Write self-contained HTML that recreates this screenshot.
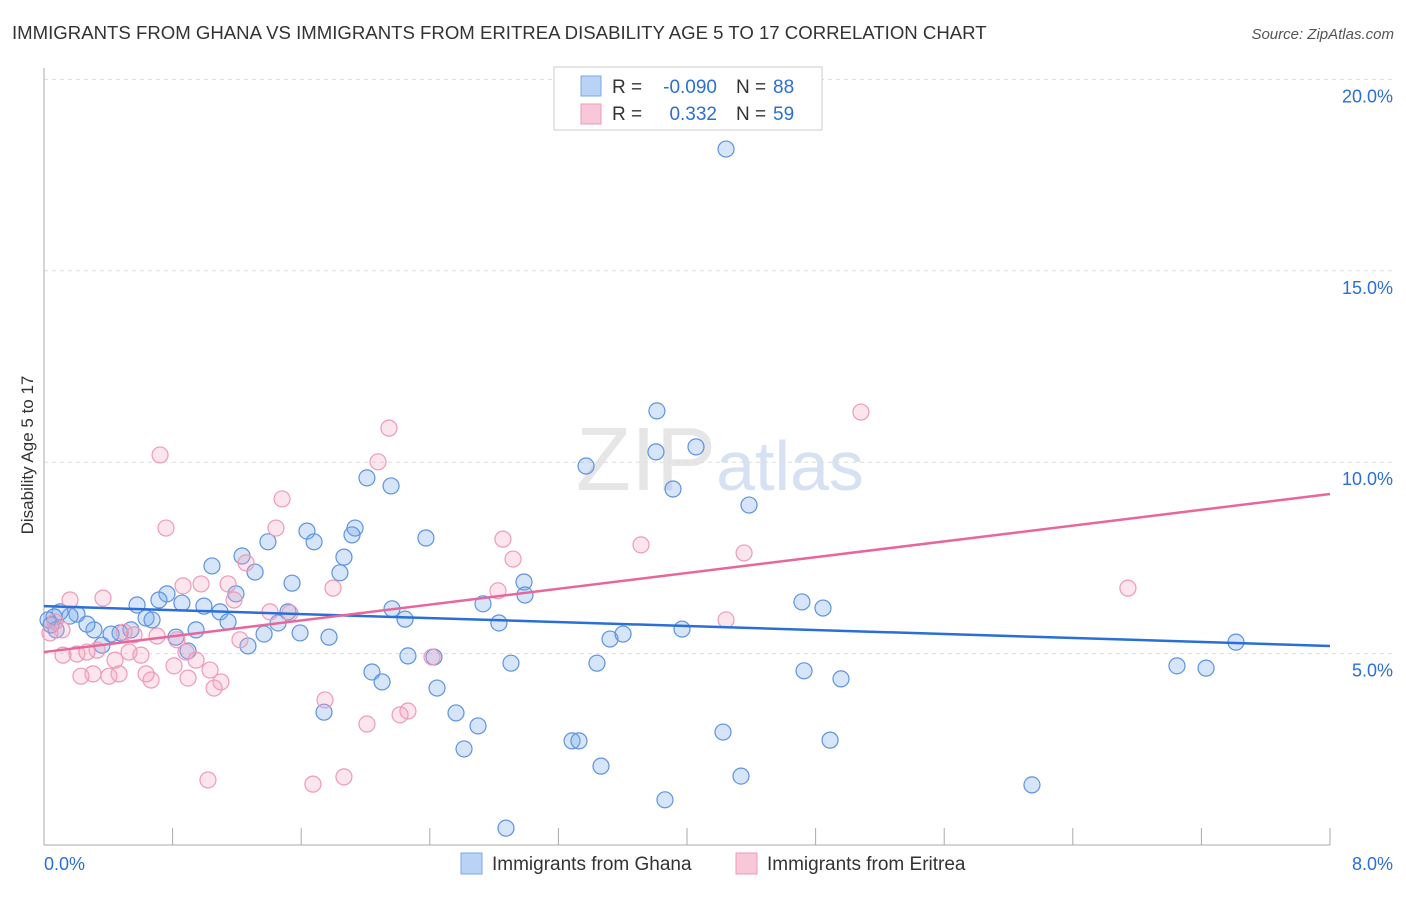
<!DOCTYPE html>
<html><head><meta charset="utf-8"><style>
body{margin:0;background:#fff;font-family:"Liberation Sans",sans-serif}
svg text{font-family:"Liberation Sans",sans-serif}
</style></head><body>
<svg width="1406" height="892" xmlns="http://www.w3.org/2000/svg">
<text x="12" y="39" font-size="18.6" fill="#333">IMMIGRANTS FROM GHANA VS IMMIGRANTS FROM ERITREA DISABILITY AGE 5 TO 17 CORRELATION CHART</text>
<text x="1394" y="39" font-size="15" fill="#555" text-anchor="end" font-style="italic">Source: ZipAtlas.com</text>
<text x="720" y="490" font-size="90" fill="#e6e6e6" text-anchor="middle" font-family="Liberation Serif">ZIP<tspan fill="#d6e2f3" font-family="Liberation Sans" font-size="70">atlas</tspan></text>
<g id="grid"></g>
<g id="axes"></g>
<g id="pts"></g>
<g id="lines"></g>
<text transform="translate(33,455) rotate(-90)" font-size="17" fill="#333" text-anchor="middle">Disability Age 5 to 17</text>
<g>
<rect x="554" y="67" width="268" height="63" fill="#fff" stroke="#ccc"/>
<rect x="581" y="76" width="20" height="20" fill="#b8d3f5" stroke="#7aa7e6"/>
<rect x="581" y="104" width="20" height="20" fill="#f9c8d8" stroke="#ee9ab8"/>
<text x="612" y="93" font-size="19" fill="#333">R =</text>
<text x="717" y="93" font-size="19" fill="#2a6fd6" text-anchor="end">-0.090</text>
<text x="736" y="93" font-size="19" fill="#333">N =</text>
<text x="773" y="93" font-size="19" fill="#2a6fd6">88</text>
<text x="612" y="120" font-size="19" fill="#333">R =</text>
<text x="717" y="120" font-size="19" fill="#2a6fd6" text-anchor="end">0.332</text>
<text x="736" y="120" font-size="19" fill="#333">N =</text>
<text x="773" y="120" font-size="19" fill="#2a6fd6">59</text>
</g>
<g>
<rect x="461" y="853" width="21" height="21" fill="#b8d3f5" stroke="#7aa7e6"/>
<text x="492" y="870" font-size="19" fill="#333">Immigrants from Ghana</text>
<rect x="736" y="853" width="21" height="21" fill="#f9c8d8" stroke="#ee9ab8"/>
<text x="767" y="870" font-size="19" fill="#333">Immigrants from Eritrea</text>
</g>
</svg>
<script>
const xTicks=[0,0.8,1.6,2.4,3.2,4,4.8,5.6,6.4,7.2,8];
const yTicks=[5,10,15,20];
const yTickLabels=["5.0%","10.0%","15.0%","20.0%"];
const xTickLabels=["0.0%","8.0%"];
const ghanaPx=[[726,149],[657,411],[656,452],[696,447],[586,466],[673,489],[749,505],[367,478],[391,486],[426,538],[355,528],[352,535],[307,531],[314,542],[268,542],[242,556],[255,572],[344,557],[340,573],[292,583],[212,566],[236,594],[167,594],[159,600],[137,605],[182,603],[204,606],[220,612],[228,622],[196,630],[176,637],[146,618],[152,620],[131,630],[120,633],[111,634],[94,630],[87,624],[77,614],[70,616],[60,612],[54,617],[48,620],[51,625],[56,630],[102,645],[188,651],[248,646],[264,634],[278,623],[288,612],[300,633],[329,637],[392,609],[405,619],[483,604],[499,623],[524,582],[525,595],[610,639],[623,634],[682,629],[802,602],[823,608],[1236,642],[1177,666],[1206,668],[408,656],[434,657],[372,672],[382,682],[437,688],[511,663],[597,663],[804,671],[841,679],[324,712],[456,713],[478,726],[464,749],[572,741],[579,741],[601,766],[723,732],[830,740],[741,776],[665,800],[1032,785],[506,828]];
const eritreaPx=[[160,455],[166,528],[389,428],[378,462],[282,499],[276,528],[503,539],[513,559],[641,545],[744,553],[861,412],[1128,588],[183,586],[201,584],[228,584],[246,563],[234,600],[333,588],[270,612],[290,613],[498,591],[726,620],[70,600],[103,598],[124,632],[134,635],[157,636],[177,640],[186,652],[196,660],[62,630],[55,622],[50,633],[63,655],[77,654],[87,652],[97,650],[115,660],[129,652],[141,655],[174,666],[210,670],[240,640],[81,676],[93,674],[109,676],[119,674],[151,680],[188,678],[221,682],[214,688],[146,674],[325,700],[367,724],[400,715],[408,711],[432,657],[208,780],[313,784],[344,777]];
const ghanaX=ghanaPx.map(p=>+((p[0]-44)*8/1286).toFixed(3));
const ghanaY=ghanaPx.map(p=>+((845-p[1])*5/191.4).toFixed(2));
const eritreaX=eritreaPx.map(p=>+((p[0]-44)*8/1286).toFixed(3));
const eritreaY=eritreaPx.map(p=>+((845-p[1])*5/191.4).toFixed(2));
const ghanaTrend=[6.24,5.2];
const eritreaTrend=[5.04,9.17];
const X=v=>44+v/8*1286, Y=v=>845-v/5*191.4;
const NS="http://www.w3.org/2000/svg";
function mk(parent,tag,attrs){const e=document.createElementNS(NS,tag);for(const k in attrs)e.setAttribute(k,attrs[k]);document.getElementById(parent).appendChild(e);return e;}
yTicks.forEach((t,i)=>{
 const l=mk('grid','line',{x1:44,x2:1394,y1:Y(t),y2:Y(t),stroke:'#ddd','stroke-dasharray':'4,4'});
 
 
 const tx=mk('grid','text',{x:1393,y:Y(t)+23,'font-size':18,fill:'#2a6fd6','text-anchor':'end'});
 tx.textContent=yTickLabels[i];
 
 
});
const ax=mk('axes','line',{x1:44,x2:1330,y1:845,y2:845,stroke:'#aaa'});


const ay=mk('axes','line',{x1:44,x2:44,y1:68,y2:845,stroke:'#aaa'});


xTicks.forEach(t=>{const l=mk('axes','line',{x1:X(t),x2:X(t),y1:828,y2:845,stroke:'#aaa'});
 
 });
const xl0=mk('axes','text',{x:44,y:870,'font-size':18,fill:'#2a6fd6'});xl0.textContent=xTickLabels[0];


const xl1=mk('axes','text',{x:1393,y:870,'font-size':18,fill:'#2a6fd6','text-anchor':'end'});xl1.textContent=xTickLabels[1];


ghanaX.forEach((x,i)=>{const c=mk('pts','circle',{cx:X(x),cy:Y(ghanaY[i]),r:8,fill:'rgba(120,170,235,0.3)',stroke:'#5d93e0','stroke-width':1.2});
 
 });
eritreaX.forEach((x,i)=>{const c=mk('pts','circle',{cx:X(x),cy:Y(eritreaY[i]),r:8,fill:'rgba(245,160,190,0.28)',stroke:'#ee9ab8','stroke-width':1.2});
 
 });
const gl=mk('lines','line',{x1:X(0),x2:X(8),y1:Y(ghanaTrend[0]),y2:Y(ghanaTrend[1]),stroke:'#2a6fd6','stroke-width':2.5});


const el=mk('lines','line',{x1:X(0),x2:X(8),y1:Y(eritreaTrend[0]),y2:Y(eritreaTrend[1]),stroke:'#e8679a','stroke-width':2.5});


</script>
</body></html>
